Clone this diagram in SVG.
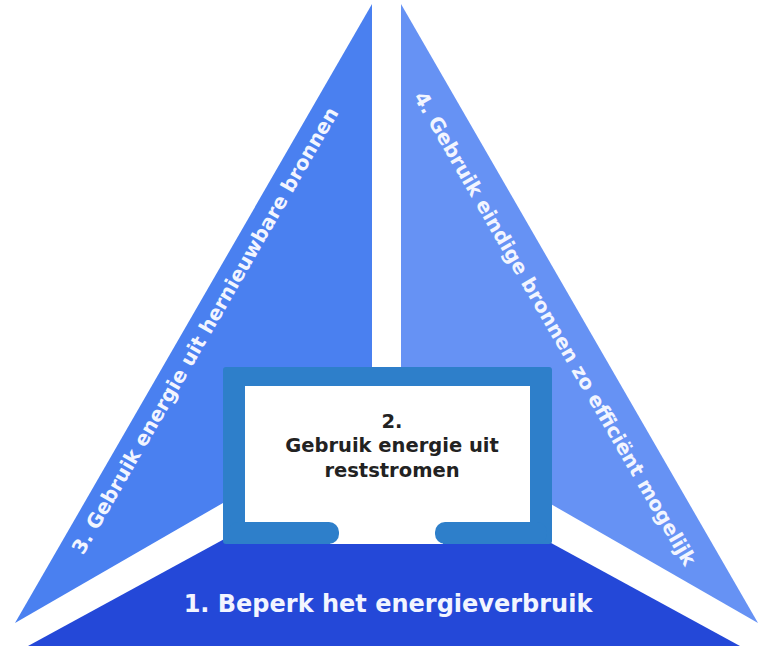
<svg xmlns="http://www.w3.org/2000/svg" width="773" height="652" viewBox="0 0 773 652">
<style>
.lbl{font-family:"DejaVu Sans","Verdana",sans-serif;font-weight:bold;fill:#f2f5ff;text-anchor:middle}
.box{font-family:"DejaVu Sans","Verdana",sans-serif;font-weight:bold;fill:#222;text-anchor:middle;font-size:19.5px}
</style>
<rect width="773" height="652" fill="#ffffff"/>
<g id="node-bottom">
<polygon points="28,646 384,452 740,646" fill="#2448d8"/>
<text class="lbl" x="388" y="612" font-size="24">1. Beperk het energieverbruik</text>
</g>
<g id="node-left">
<polygon points="372,4 372,417 15,623" fill="#4a80f0"/>
<text class="lbl" font-size="20" transform="translate(211,334) rotate(-60)">3. Gebruik energie uit hernieuwbare bronnen</text>
</g>
<g id="node-right">
<polygon points="401,4 401,418 758,623" fill="#6692f4"/>
<text class="lbl" font-size="20" transform="translate(549,332) rotate(60)">4. Gebruik eindige bronnen zo efficiënt mogelijk</text>
</g>
<g id="node-center">
<rect x="223" y="367" width="329" height="177" rx="3" fill="#2e7fca"/>
<rect x="245" y="386" width="285" height="146" fill="#ffffff"/>
<rect x="330" y="520" width="113" height="24" fill="#ffffff"/>
<rect x="228" y="522" width="111" height="22" rx="10" fill="#2e7fca"/>
<rect x="435" y="522" width="112" height="22" rx="10" fill="#2e7fca"/>
<rect x="240" y="534" width="60" height="10" fill="#2e7fca"/>
<rect x="475" y="534" width="60" height="10" fill="#2e7fca"/>
<text class="box" x="392" y="428">2.</text>
<text class="box" x="392" y="452">Gebruik energie uit</text>
<text class="box" x="392" y="477">reststromen</text>
</g>
<g id="connectors"></g>
</svg>
